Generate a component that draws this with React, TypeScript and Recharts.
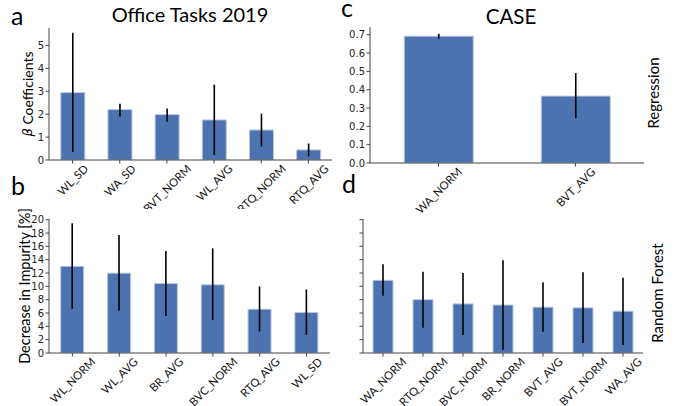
import React from "react";
import { BarChart, Bar, XAxis, YAxis, ErrorBar } from "recharts";

// Regression β coefficients, Office Tasks 2019
const officeCats = ["WL_SD", "WA_SD", "BVT_NORM", "WL_AVG", "RTQ_NORM", "RTQ_AVG"];
const officeBeta = [2.94, 2.2, 1.98, 1.75, 1.31, 0.44];
const officeBetaLo = [0.35, 1.9, 1.67, 0.22, 0.59, 0.16];
const officeBetaHi = [5.55, 2.46, 2.25, 3.29, 2.02, 0.72];

// Regression β coefficients, CASE
const caseCats = ["WA_NORM", "BVT_AVG"];
const caseBeta = [0.692, 0.365];
const caseBetaLo = [0.678, 0.245];
const caseBetaHi = [0.705, 0.491];

// Random forest importance, Office Tasks 2019
const officeRfCats = ["WL_NORM", "WL_AVG", "BR_AVG", "BVC_NORM", "RTQ_AVG", "WL_SD"];
const officeRf = [13.0, 11.98, 10.43, 10.23, 6.57, 6.07];
const officeRfLo = [6.62, 6.32, 5.56, 4.92, 3.22, 2.71];
const officeRfHi = [19.46, 17.7, 15.3, 15.7, 9.98, 9.53];

// Random forest importance, CASE
const caseRfCats = ["WA_NORM", "RTQ_NORM", "BVC_NORM", "BR_NORM", "BVT_AVG", "BVT_NORM", "WA_AVG"];
const caseRf = [10.9, 8.0, 7.37, 7.2, 6.87, 6.77, 6.27];
const caseRfLo = [8.6, 3.8, 2.7, 0.5, 3.2, 1.5, 1.2];
const caseRfHi = [13.3, 12.2, 12.0, 13.9, 10.6, 12.1, 11.3];

const betaTicks = [0, 1, 2, 3, 4, 5];
const caseTicks = [0, 0.1, 0.2, 0.3, 0.4, 0.5, 0.6, 0.7];
const impurityTicks = [0, 2, 4, 6, 8, 10, 12, 14, 16, 18, 20];

const BAR = "#4c72b0";
const BAR_EDGE = "#b9c7e2";
const FRAME = "#444";
const LABEL_FONT = "Lato, sans-serif";
const TICK_FONT = '"DejaVu Sans", sans-serif';
const CAT_FS = 11.3;

const toRows = (cats: string[], vals: number[], lo: number[], hi: number[]) =>
  cats.map((name, i) => ({ name, value: vals[i], err: [vals[i] - lo[i], hi[i] - vals[i]] }));

let measureCtx: CanvasRenderingContext2D | null = null;
const textWidth = (s: string, font: string) => {
  if (!measureCtx) measureCtx = document.createElement("canvas").getContext("2d");
  if (!measureCtx) return s.length * 7;
  measureCtx.font = font;
  return measureCtx.measureText(s).width;
};

// 45° rotated category label, its bounding box centred under the tick
const RotatedTick = (props: any) => {
  const { x, y, payload } = props;
  const w = textWidth(payload.value, `${CAT_FS}px Lato`);
  const cy = y + (w + CAT_FS * 0.75) / (2 * Math.SQRT2);
  return (
    <text
      x={x}
      y={cy}
      textAnchor="middle"
      dominantBaseline="central"
      transform={`rotate(-45 ${x} ${cy})`}
      fontFamily={LABEL_FONT}
      fontSize={CAT_FS}
      fill="#111"
    >
      {payload.value}
    </text>
  );
};

interface PanelProps {
  rows: { name: string; value: number; err: number[] }[];
  width: number;
  height: number;
  margin: { top: number; right: number; left: number; bottom: number };
  yWidth: number;
  xHeight: number;
  domain: [number, number];
  ticks: number[];
  format?: (v: number) => string;
}

const Panel: React.FC<PanelProps> = ({ rows, width, height, margin, yWidth, xHeight, domain, ticks, format }) => (
  <BarChart width={width} height={height} data={rows} margin={margin} barCategoryGap="25%">
    <XAxis
      dataKey="name"
      interval={0}
      height={xHeight}
      tickSize={3.5}
      tickMargin={0}
      tick={(p: any) => <RotatedTick {...p} />}
      axisLine={{ stroke: FRAME }}
      tickLine={{ stroke: FRAME }}
    />
    <XAxis xAxisId="top" orientation="top" dataKey="name" height={0} tick={false} tickLine={false} axisLine={{ stroke: FRAME }} />
    <YAxis
      width={yWidth}
      domain={domain}
      ticks={ticks}
      interval={0}
      allowDataOverflow
      tickSize={3.5}
      tickMargin={1.5}
      tickFormatter={format || ((v: number) => String(v))}
      tick={{ fontFamily: TICK_FONT, fontSize: 10, fill: "#222" }}
      axisLine={{ stroke: FRAME }}
      tickLine={{ stroke: FRAME }}
    />
    <YAxis yAxisId="right" orientation="right" width={0} tick={false} tickLine={false} axisLine={{ stroke: FRAME }} />
    <Bar dataKey="value" fill={BAR} stroke={BAR_EDGE} strokeWidth={1} isAnimationActive={false}>
      <ErrorBar dataKey="err" width={0} stroke="#000" strokeWidth={1.6} direction="y" />
    </Bar>
  </BarChart>
);

export default function App() {
  return (
    <div style={{ position: "absolute", left: 0, top: 0, width: 683, height: 406, background: "#fff", overflow: "hidden" }}>
      <div style={{ position: "absolute", left: 0, top: 0 }}>
        <Panel
          rows={toRows(officeCats, officeBeta, officeBetaLo, officeBetaHi)}
          width={340}
          height={209}
          margin={{ top: 28, right: 8, left: 0, bottom: 0 }}
          yWidth={49}
          xHeight={49}
          domain={[0, 5.76]}
          ticks={betaTicks}
        />
      </div>
      <div style={{ position: "absolute", left: 340, top: 0 }}>
        <Panel
          rows={toRows(caseCats, caseBeta, caseBetaLo, caseBetaHi)}
          width={343}
          height={220}
          margin={{ top: 27, right: 39, left: 0, bottom: 0 }}
          yWidth={30}
          xHeight={57}
          domain={[0, 0.742]}
          ticks={caseTicks}
          format={(v: number) => v.toFixed(1)}
        />
      </div>
      <div style={{ position: "absolute", left: 0, top: 200 }}>
        <Panel
          rows={toRows(officeRfCats, officeRf, officeRfLo, officeRfHi)}
          width={340}
          height={206}
          margin={{ top: 19, right: 10, left: 0, bottom: 0 }}
          yWidth={49}
          xHeight={53}
          domain={[0, 20.1]}
          ticks={impurityTicks}
        />
      </div>
      <div style={{ position: "absolute", left: 340, top: 200 }}>
        <Panel
          rows={toRows(caseRfCats, caseRf, caseRfLo, caseRfHi)}
          width={343}
          height={206}
          margin={{ top: 19, right: 40, left: 0, bottom: 0 }}
          yWidth={23}
          xHeight={53}
          domain={[0, 20.1]}
          ticks={impurityTicks}
          format={() => ""}
        />
      </div>

      {/* panel letters, titles and axis labels */}
      <svg width={683} height={406} style={{ position: "absolute", left: 0, top: 0, pointerEvents: "none" }}>
        <g fontFamily={LABEL_FONT} fill="#000">
          <text x={11} y={25} fontSize={25}>a</text>
          <text x={341} y={17} fontSize={25}>c</text>
          <text x={11} y={195} fontSize={25}>b</text>
          <text x={342} y={193} fontSize={25}>d</text>
          <text x={190} y={22} fontSize={20} textAnchor="middle">Office Tasks 2019</text>
          <text x={511} y={24} fontSize={20.5} textAnchor="middle">CASE</text>
          <text x={27} y={94} fontSize={14} textAnchor="middle" dominantBaseline="central" transform="rotate(-90 27 94)">
            <tspan fontFamily='"DejaVu Sans", sans-serif' fontStyle="italic" fontSize={13}>β</tspan> Coefficients
          </text>
          <text x={24.5} y={286} fontSize={14.5} textAnchor="middle" dominantBaseline="central" transform="rotate(-90 24.5 286)">
            Decrease in Impurity [%]
          </text>
          <text x={653} y={93} fontSize={15} textAnchor="middle" dominantBaseline="central" transform="rotate(-90 653 93)">
            Regression
          </text>
          <text x={657} y={293} fontSize={15} textAnchor="middle" dominantBaseline="central" transform="rotate(-90 657 293)">
            Random Forest
          </text>
        </g>
      </svg>
    </div>
  );
}
